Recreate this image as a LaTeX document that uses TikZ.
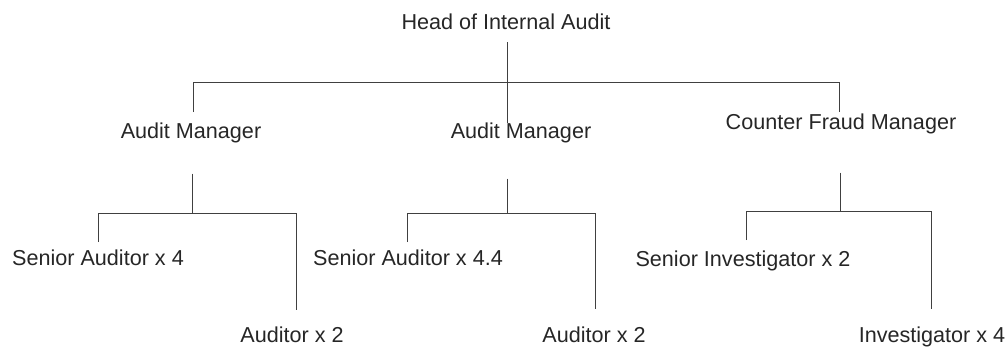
\documentclass[tikz,border=0pt]{standalone}
\usepackage{fontspec}
\setmainfont{Liberation Sans}
\begin{document}
\begin{tikzpicture}[x=1pt, y=-1pt,
  role/.style = {anchor=base, inner sep=0pt, text=black!85,
                 font=\fontsize{21.6}{26}\selectfont},
  link/.style = {line width=1pt, draw=black!75}]
\useasboundingbox (0,0) rectangle (1007,347);
\path (506,30) node[role] (head) {Head of Internal Audit};
\path (191,139) node[role] (am1) {Audit Manager};
\path (521,139) node[role] (am2) {Audit Manager};
\path (841,130) node[role] (cfm) {Counter Fraud Manager};
\path (98,266) node[role] (sa1) {Senior Auditor x 4};
\path (292,343) node[role] (a1) {Auditor x 2};
\path (408,266) node[role] (sa2) {Senior Auditor x 4.4};
\path (594,343) node[role] (a2) {Auditor x 2};
\path (743,267) node[role] (si) {Senior Investigator x 2};
\path (932,343) node[role] (inv) {Investigator x 4};
% head to managers
\draw[link] ([xshift=1pt,yshift=-12pt]head.south) -- ([xshift=1pt]head.south |- am1.north) ++(0,-11);
\draw[link] ([xshift=2pt,yshift=11pt]am1.north) |- ([yshift=-52pt]head.south) -| ([xshift=-2pt,yshift=2pt]cfm.north);
% audit manager 1
\draw[link] ([xshift=1pt,yshift=-30pt]am1.south) -- ([xshift=1pt,yshift=-70pt]am1.south);
\draw[link] ([yshift=8pt]sa1.north) |- ([xshift=1pt,yshift=-70pt]am1.south) -| ([xshift=4pt,yshift=17pt]a1.north);
% audit manager 2
\draw[link] ([xshift=-14pt,yshift=-35pt]am2.south) -- ([xshift=-14pt,yshift=-70pt]am2.south);
\draw[link] ([xshift=-1pt,yshift=8pt]sa2.north) |- ([xshift=-14pt,yshift=-70pt]am2.south) -| ([xshift=1pt,yshift=18pt]a2.north);
% counter fraud manager
\draw[link] ([xshift=-1pt,yshift=-38pt]cfm.south) -- ([xshift=-1pt,yshift=-77pt]cfm.south);
\draw[link] ([xshift=3pt,yshift=11pt]si.north) |- ([xshift=-1pt,yshift=-77pt]cfm.south) -| ([xshift=-1pt,yshift=18pt]inv.north);
\end{tikzpicture}
\end{document}
